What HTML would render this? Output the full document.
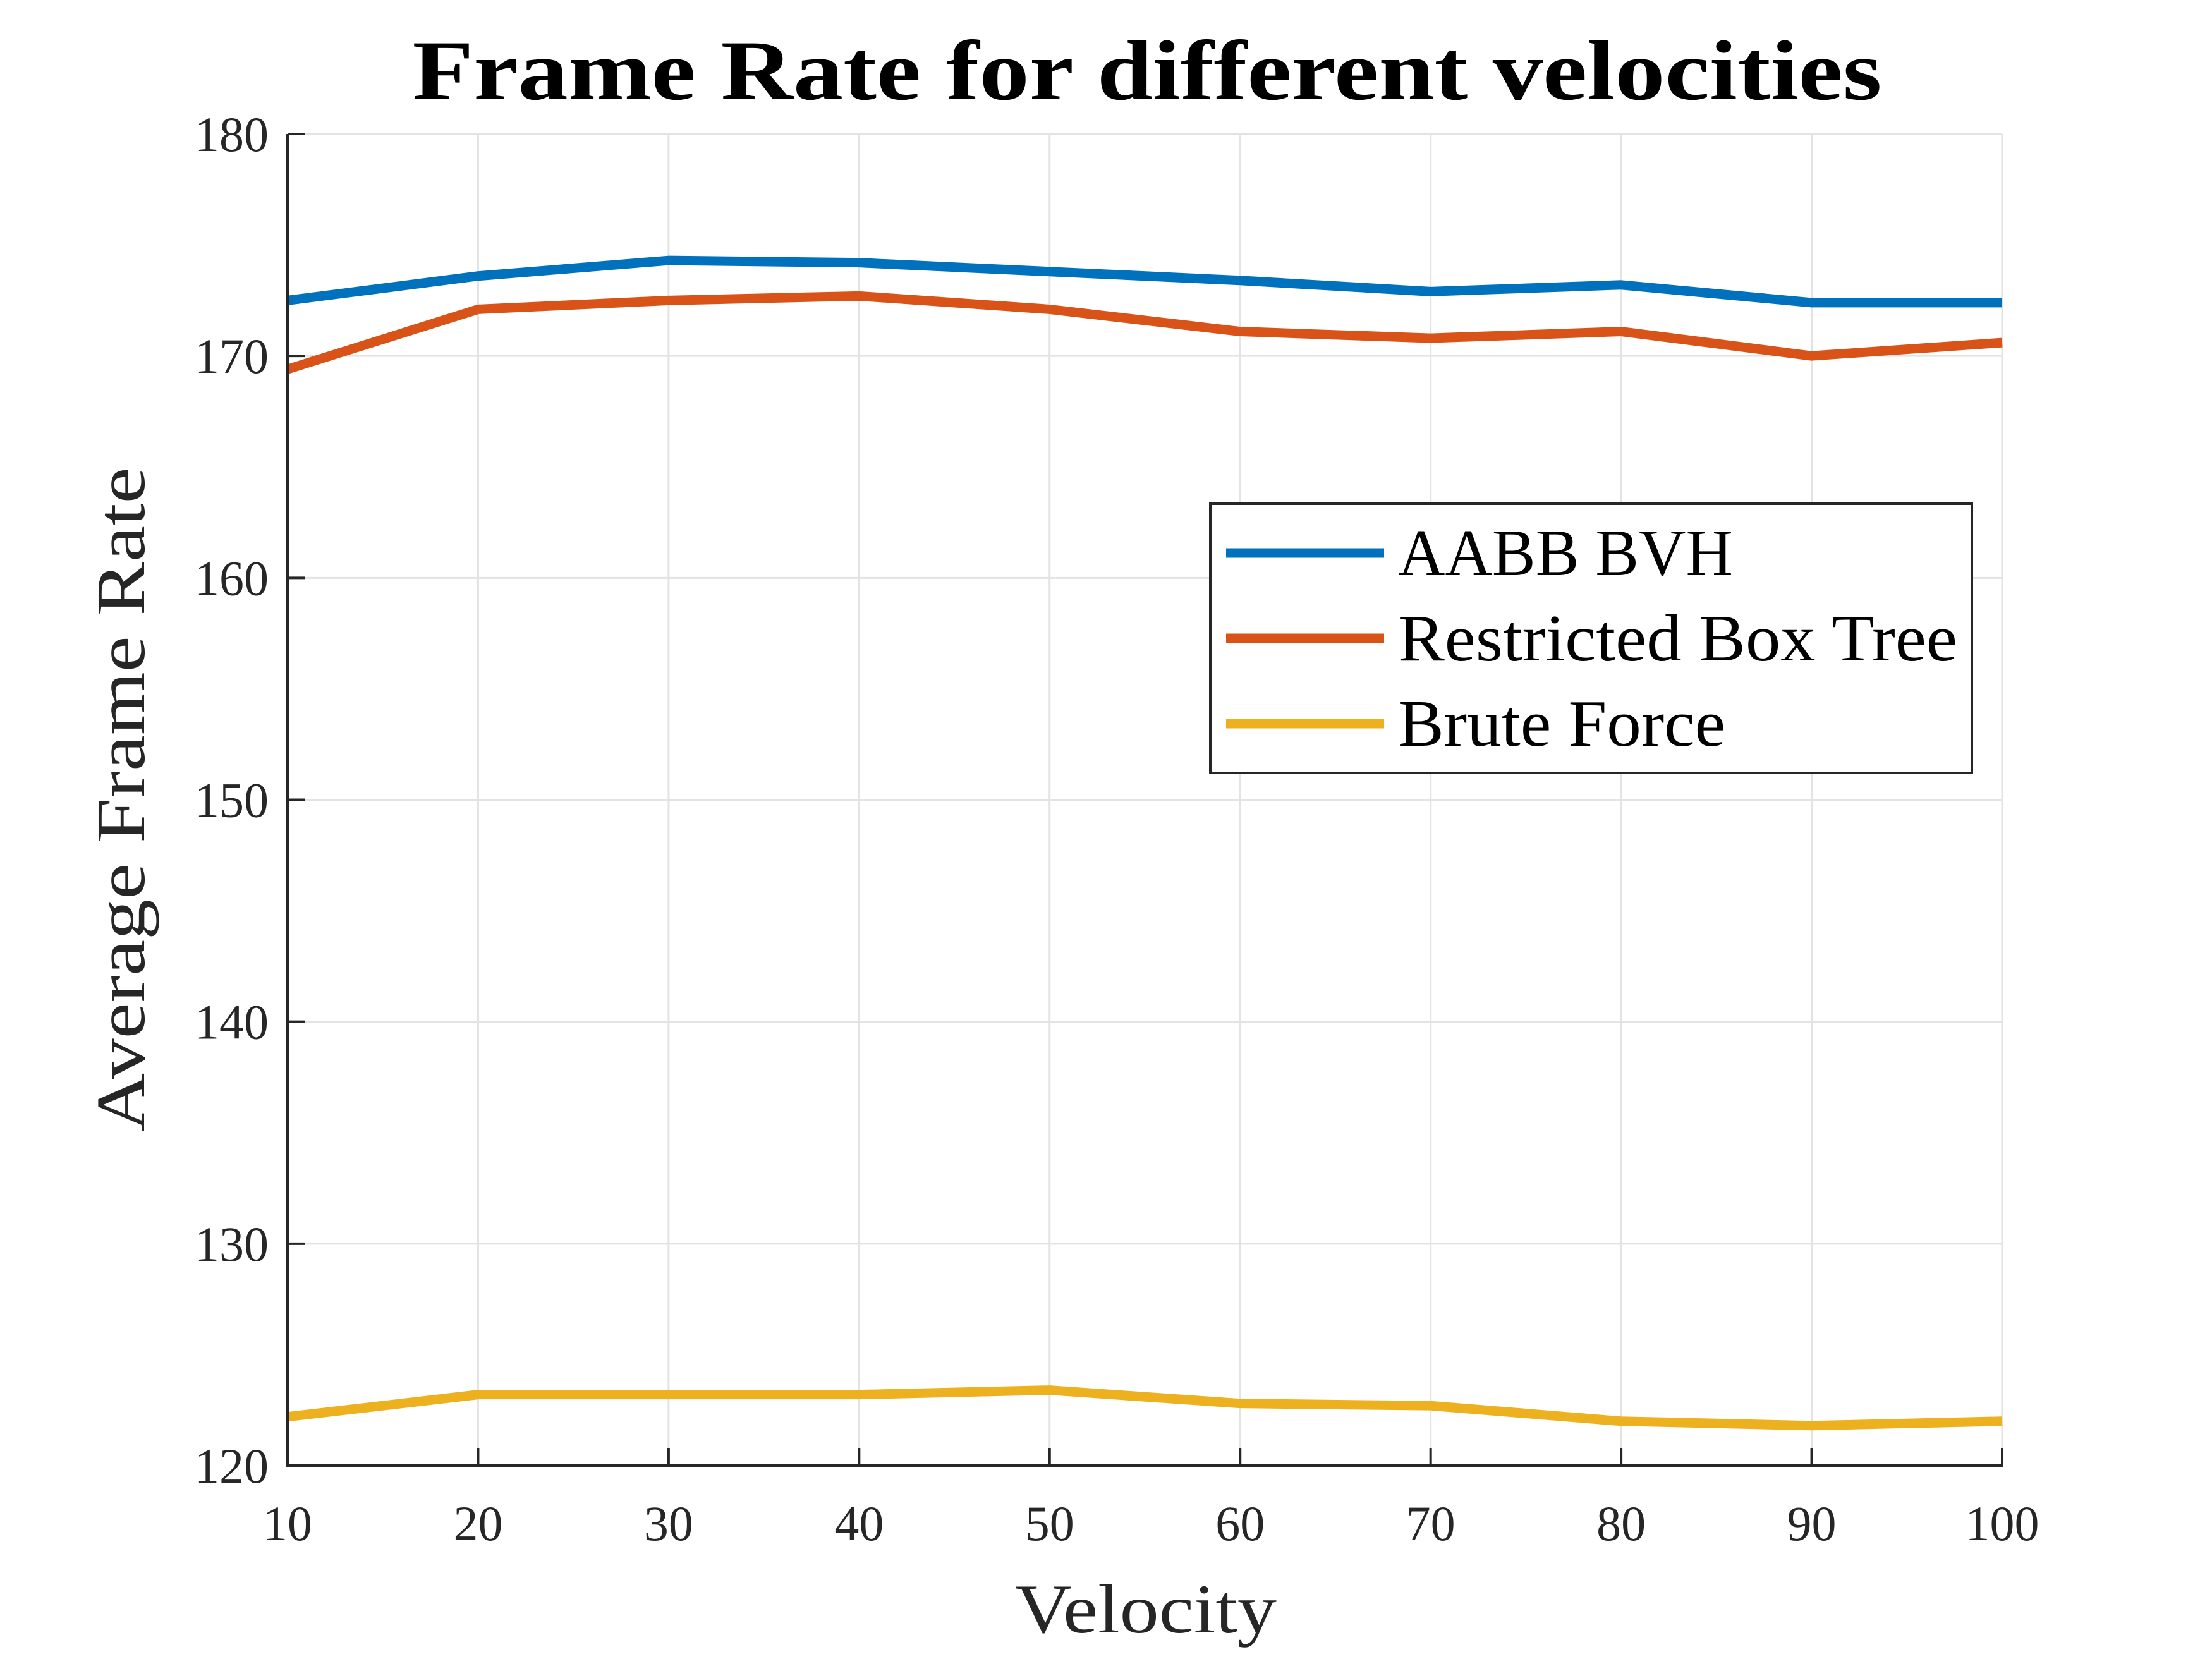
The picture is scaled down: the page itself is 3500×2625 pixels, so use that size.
<!DOCTYPE html>
<html><head><meta charset="utf-8"><style>html,body{margin:0;padding:0;background:#fff}svg{display:block}</style></head>
<body>
<svg id="chart" width="3500" height="2625" viewBox="0 0 3500 2625" xmlns="http://www.w3.org/2000/svg" font-family="'Liberation Serif', serif">
<rect width="3500" height="2625" fill="#fff"/>
<g id="grid"></g>
<g id="series"></g>
<g id="axes"></g>
<text x="1815" y="157" text-anchor="middle" font-size="135" font-weight="bold" textLength="2325" lengthAdjust="spacingAndGlyphs" fill="#000">Frame Rate for different velocities</text>
<text x="1813" y="2583" text-anchor="middle" font-size="110" textLength="414" lengthAdjust="spacingAndGlyphs" fill="#262626">Velocity</text>
<text transform="translate(228,1265) rotate(-90)" text-anchor="middle" font-size="110" textLength="1051" lengthAdjust="spacingAndGlyphs" fill="#262626">Average Frame Rate</text>
<g>
<rect x="1915" y="797" width="1205" height="426" fill="#fff" stroke="#262626" stroke-width="4"/>
<line x1="1940" y1="875" x2="2190" y2="875" stroke="#0072BD" stroke-width="15"/>
<text x="2212" y="910" font-size="105" textLength="530" lengthAdjust="spacingAndGlyphs" fill="#000">AABB BVH</text>
<line x1="1940" y1="1010" x2="2190" y2="1010" stroke="#D95319" stroke-width="15"/>
<text x="2212" y="1045" font-size="105" textLength="885" lengthAdjust="spacingAndGlyphs" fill="#000">Restricted Box Tree</text>
<line x1="1940" y1="1145" x2="2190" y2="1145" stroke="#EDB120" stroke-width="15"/>
<text x="2212" y="1180" font-size="105" textLength="518" lengthAdjust="spacingAndGlyphs" fill="#000">Brute Force</text>
</g>
</svg>
<script>
const velocities = [10,20,30,40,50,60,70,80,90,100];
const aabbValues = [172.5,173.6,174.3,174.2,173.8,173.4,172.9,173.2,172.4,172.4];
const rbtValues = [169.4,172.1,172.5,172.7,172.1,171.1,170.8,171.1,170.0,170.6];
const bruteValues = [122.2,123.2,123.2,123.2,123.4,122.8,122.7,122.0,121.8,122.0];
const xTicks = [10,20,30,40,50,60,70,80,90,100];
const yTicks = [120,130,140,150,160,170,180];

const NS = 'http://www.w3.org/2000/svg';
const X0=455, X1=3168, Y0=2319, Y1=212;
const xMin=10, xMax=100, yMin=120, yMax=180;
function sx(v){return X0+(v-xMin)/(xMax-xMin)*(X1-X0);}
function sy(v){return Y0-(v-yMin)/(yMax-yMin)*(Y0-Y1);}
function mk(tag, attrs, parent){const e=document.createElementNS(NS,tag);for(const k in attrs)e.setAttribute(k,attrs[k]);parent.appendChild(e);return e;}
const grid=document.getElementById('grid'), axes=document.getElementById('axes'), series=document.getElementById('series');

xTicks.forEach(t=>{
  const g=mk('line',{x1:sx(t),x2:sx(t),y1:Y1,y2:Y0,stroke:'#e3e3e3','stroke-width':3},grid);
  
  
  const tk=mk('line',{x1:sx(t),x2:sx(t),y1:Y0,y2:Y0-28,stroke:'#262626','stroke-width':4},axes);
  
  
  const lb=mk('text',{x:sx(t),y:2437,'text-anchor':'middle','font-size':78,fill:'#262626'},axes);
  lb.textContent=t;
  
  
});
yTicks.forEach(t=>{
  const g=mk('line',{x1:X0,x2:X1,y1:sy(t),y2:sy(t),stroke:'#e3e3e3','stroke-width':3},grid);
  
  
  const tk=mk('line',{x1:X0,x2:X0+28,y1:sy(t),y2:sy(t),stroke:'#262626','stroke-width':4},axes);
  
  
  const lb=mk('text',{x:425,y:sy(t)+27,'text-anchor':'end','font-size':78,fill:'#262626'},axes);
  lb.textContent=t;
  
  
});
const xa=mk('line',{x1:X0,x2:X1+2,y1:Y0,y2:Y0,stroke:'#262626','stroke-width':4},axes);


const ya=mk('line',{x1:X0,x2:X0,y1:Y1,y2:Y0+2,stroke:'#262626','stroke-width':4},axes);



function drawLine(vals,color,name){
  const pts=velocities.map((v,i)=>sx(v)+','+sy(vals[i])).join(' ');
  const p=mk('polyline',{points:pts,fill:'none',stroke:color,'stroke-width':15,'stroke-linejoin':'round'},series);
  
  
}
drawLine(aabbValues,'#0072BD','aabb-bvh-line');
drawLine(rbtValues,'#D95319','restricted-box-tree-line');
drawLine(bruteValues,'#EDB120','brute-force-line');
</script>
</body></html>
